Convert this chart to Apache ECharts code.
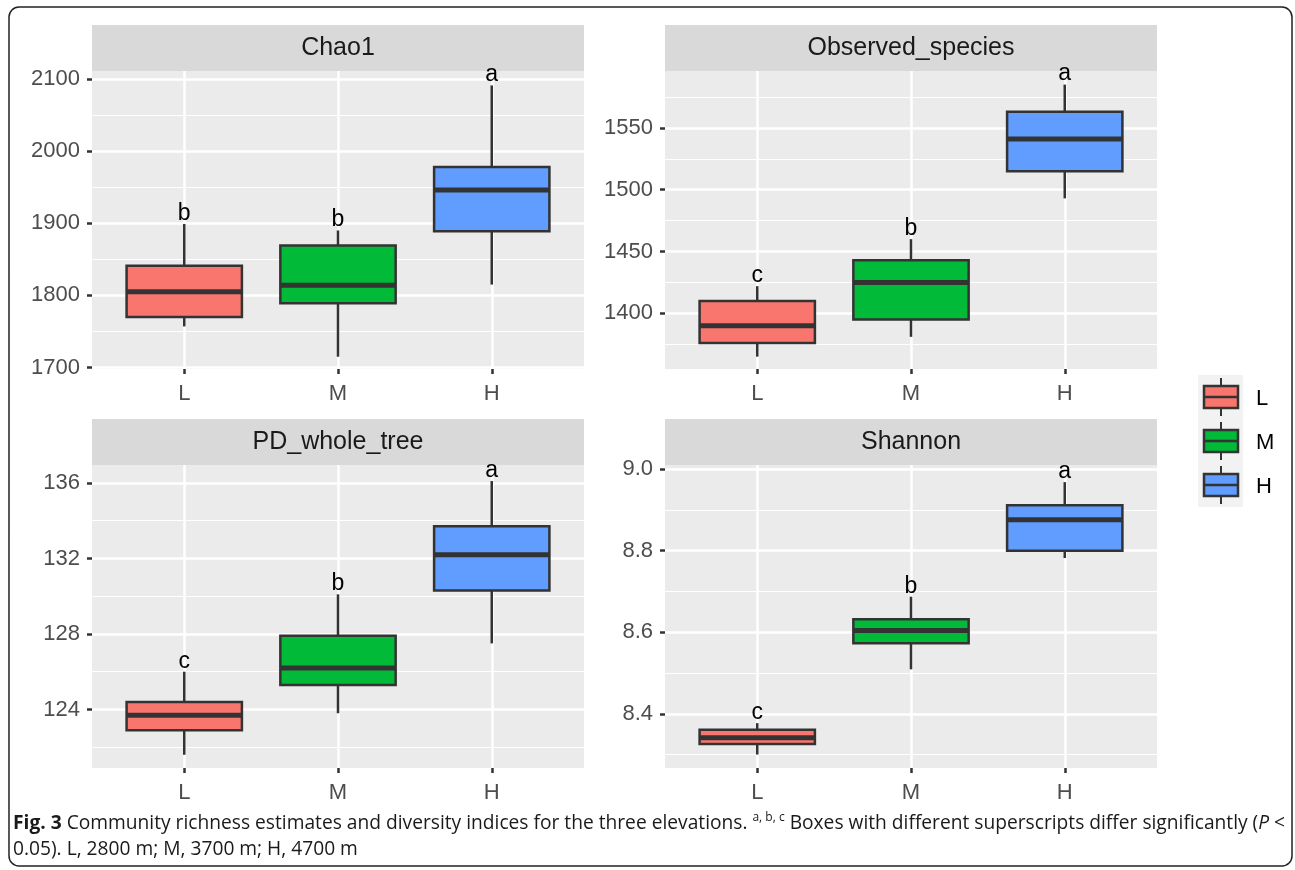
<!DOCTYPE html>
<html><head><meta charset="utf-8">
<script src="https://cdn.jsdelivr.net/npm/echarts@6/dist/echarts.min.js"></script>
<style>html,body{margin:0;padding:0;background:#fff}#c{width:1295px;height:870px}</style>
</head><body><div id="c"></div>
<script>
// ---------------- data ----------------
const categories = ['L', 'M', 'H'];
const panelTitles = ['Chao1', 'Observed_species', 'PD_whole_tree', 'Shannon'];
// each row: [lower whisker, Q1, median, Q3, upper whisker] for L, M, H
const chao1 = [[1757, 1770, 1805, 1841, 1899], [1715, 1789, 1814, 1869, 1890], [1815, 1889, 1946, 1978, 2091]];
const observedSpecies = [[1365, 1376, 1390, 1410, 1422], [1381, 1395, 1425, 1443, 1460], [1493, 1515, 1541, 1563, 1585]];
const pdWholeTree = [[121.6, 122.9, 123.7, 124.4, 126.0], [123.8, 125.3, 126.2, 127.9, 130.1], [127.5, 130.3, 132.2, 133.7, 136.1]];
const shannon = [[8.300, 8.326, 8.341, 8.361, 8.377], [8.509, 8.573, 8.604, 8.632, 8.687], [8.782, 8.800, 8.876, 8.911, 8.968]];
const letters = [['b', 'b', 'a'], ['c', 'b', 'a'], ['c', 'b', 'a'], ['c', 'b', 'a']];
const chao1Ticks = [1700, 1800, 1900, 2000, 2100];
const chao1Minor = [1750, 1850, 1950, 2050];
const observedTicks = [1400, 1450, 1500, 1550];
const observedMinor = [1375, 1425, 1475, 1525, 1575];
const pdTicks = [124, 128, 132, 136];
const pdMinor = [122, 126, 130, 134];
const shannonTicks = [8.4, 8.6, 8.8, 9.0];
const shannonMinor = [8.3, 8.5, 8.7, 8.9];
const yLimits = [[1698, 2111], [1355, 1596], [120.9, 136.95], [8.267, 9.01]];
const xLimits = [0.4, 3.6];
const captionLine1 = ['Fig. 3', ' Community richness estimates and diversity indices for the three elevations. ', 'a, b, c', ' Boxes with different superscripts differ significantly (', 'P', ' <'];
const captionLine2 = '0.05). L, 2800 m; M, 3700 m; H, 4700 m';

// ---------------- styles / layout ----------------
const fills = ['#F8766D', '#00BA38', '#619CFF'];
const DARK = '#333333';
const FONT = '"Liberation Sans", Arial, sans-serif';
const BOX_W = 0.75;
const COL_X = [92, 665];
const GRID_W = 492;
const ROW_TOP = [71, 465];
const GRID_H = [298, 303];
const STRIP_H = 46;

const panelData = [chao1, observedSpecies, pdWholeTree, shannon];
const panelTicks = [chao1Ticks, observedTicks, pdTicks, shannonTicks];
const panelMinor = [chao1Minor, observedMinor, pdMinor, shannonMinor];
const tickFormat = [v => String(v), v => String(v), v => String(v), v => v.toFixed(1)];

const chart = echarts.init(document.getElementById('c'), null, { renderer: 'canvas', width: 1295, height: 870 });

const grids = [], xAxes = [], yAxes = [], series = [], graphics = [];

function makeRender(p) {
  return function (params, api) {
    const x = api.value(0);
    const ys = [1, 2, 3, 4, 5].map(k => api.coord([x, api.value(k)])[1]);
    const cx = api.coord([x, api.value(3)])[0];
    const w = api.size([BOX_W, 0])[0];
    const color = fills[params.dataIndex];
    return {
      type: 'group',
      children: [
        { type: 'line', shape: { x1: cx, y1: ys[0], x2: cx, y2: ys[1] }, style: { stroke: DARK, lineWidth: 2.5 } },
        { type: 'line', shape: { x1: cx, y1: ys[3], x2: cx, y2: ys[4] }, style: { stroke: DARK, lineWidth: 2.5 } },
        { type: 'rect', shape: { x: cx - w / 2, y: ys[3], width: w, height: ys[1] - ys[3] }, style: { fill: color, stroke: DARK, lineWidth: 2.5 } },
        { type: 'line', shape: { x1: cx - w / 2, y1: ys[2], x2: cx + w / 2, y2: ys[2] }, style: { stroke: DARK, lineWidth: 5 } },
        { type: 'text', x: cx, y: ys[4] + 1, style: { text: letters[p][params.dataIndex], fill: '#000', font: '23px ' + FONT, align: 'center', verticalAlign: 'bottom', textAlign: 'center', textVerticalAlign: 'bottom' } }
      ]
    };
  };
}

for (let p = 0; p < 4; p++) {
  const col = p % 2, row = Math.floor(p / 2);
  const left = COL_X[col], top = ROW_TOP[row], h = GRID_H[row];
  grids.push({ left: left, top: top, width: GRID_W, height: h, show: true, backgroundColor: '#EBEBEB', borderWidth: 0, containLabel: false });
  xAxes.push({
    gridIndex: p, type: 'value', min: xLimits[0], max: xLimits[1],
    axisLine: { show: false },
    axisTick: { show: true, customValues: [1, 2, 3], length: 5, lineStyle: { color: DARK, width: 2.5 } },
    axisLabel: { customValues: [1, 2, 3], formatter: v => categories[Math.round(v) - 1], color: '#4D4D4D', fontSize: 22, fontFamily: FONT, margin: 14 },
    splitLine: { show: true, lineStyle: { color: '#FFFFFF', width: 2.5 } }
  });
  yAxes.push({
    gridIndex: p, type: 'value', min: yLimits[p][0], max: yLimits[p][1], position: 'left',
    axisLine: { show: false },
    axisTick: { show: true, customValues: panelTicks[p], length: 5, lineStyle: { color: DARK, width: 2.5 } },
    axisLabel: { customValues: panelTicks[p], formatter: tickFormat[p], color: '#4D4D4D', fontSize: 22, fontFamily: FONT, margin: 12 },
    splitLine: { show: true, lineStyle: { color: '#FFFFFF', width: 2.5 } }
  });
  yAxes.push({
    gridIndex: p, type: 'value', min: yLimits[p][0], max: yLimits[p][1], position: 'left',
    axisLine: { show: false },
    axisTick: { show: false, customValues: panelMinor[p] },
    axisLabel: { show: false },
    splitLine: { show: true, lineStyle: { color: '#FFFFFF', width: 1.2 } }
  });
  series.push({
    type: 'custom', name: panelTitles[p], xAxisIndex: p, yAxisIndex: 2 * p,
    renderItem: makeRender(p),
    encode: { x: 0, y: [1, 2, 3, 4, 5] },
    data: panelData[p].map((v, i) => [i + 1].concat(v)),
    clip: false, z: 5
  });
  // facet strip
  graphics.push({ type: 'rect', shape: { x: left, y: top - STRIP_H, width: GRID_W, height: STRIP_H }, style: { fill: '#D9D9D9' }, silent: true });
  graphics.push({ type: 'text', x: left + GRID_W / 2, y: top - STRIP_H / 2, style: { text: panelTitles[p], fill: '#1A1A1A', font: '25px ' + FONT, textAlign: 'center', textVerticalAlign: 'middle' }, silent: true });
}

// legend (drawn as graphics)
const LEG_X = 1198, LEG_Y = 375, KEY_H = 44;
graphics.push({ type: 'rect', shape: { x: LEG_X, y: LEG_Y, width: 45, height: KEY_H * 3 }, style: { fill: '#F2F2F2' }, silent: true });
categories.forEach((c, i) => {
  const cy = LEG_Y + KEY_H * i + 22;
  graphics.push({ type: 'line', shape: { x1: LEG_X + 23, y1: cy - 19, x2: LEG_X + 23, y2: cy + 19 }, style: { stroke: DARK, lineWidth: 2 } });
  graphics.push({ type: 'rect', shape: { x: LEG_X + 6, y: cy - 11, width: 34, height: 22 }, style: { fill: fills[i], stroke: DARK, lineWidth: 2.5 } });
  graphics.push({ type: 'line', shape: { x1: LEG_X + 6, y1: cy, x2: LEG_X + 40, y2: cy }, style: { stroke: DARK, lineWidth: 2.5 } });
  graphics.push({ type: 'text', x: LEG_X + 58, y: cy + 2, style: { text: c, fill: '#000', font: '22px ' + FONT, textAlign: 'left', textVerticalAlign: 'middle' } });
});

// caption
const CAP_FONT = '"Open Sans", "Noto Sans", sans-serif';
const CAP_SIZE = 19.2;
graphics.push({
  type: 'text', x: 13, y: 824,
  style: {
    text: '{b|' + captionLine1[0] + '}{n|' + captionLine1[1] + '}{s|' + captionLine1[2] + '}{n|' + captionLine1[3] + '}{i|' + captionLine1[4] + '}{n|' + captionLine1[5] + '}',
    textVerticalAlign: 'middle', textAlign: 'left',
    rich: {
      b: { fontFamily: CAP_FONT, fontSize: CAP_SIZE, fontWeight: 'bold', fill: '#1a1a1a', lineHeight: 24 },
      n: { fontFamily: CAP_FONT, fontSize: CAP_SIZE, fill: '#1a1a1a', lineHeight: 24 },
      s: { fontFamily: CAP_FONT, fontSize: 12, fill: '#1a1a1a', lineHeight: 24, verticalAlign: 'top' },
      i: { fontFamily: CAP_FONT, fontSize: CAP_SIZE, fontStyle: 'italic', fill: '#1a1a1a', lineHeight: 24 }
    }
  }
});
graphics.push({ type: 'text', x: 13, y: 850, style: { text: captionLine2, font: CAP_SIZE + 'px ' + CAP_FONT, fill: '#1a1a1a', textAlign: 'left', textVerticalAlign: 'middle' } });

// outer rounded border
graphics.push({ type: 'rect', shape: { x: 9, y: 7, width: 1283, height: 859, r: 10 }, style: { fill: 'none', stroke: '#222', lineWidth: 1.5 }, silent: true, z: 100 });

chart.setOption({
  animation: false,
  backgroundColor: '#FFFFFF',
  grid: grids,
  xAxis: xAxes,
  yAxis: yAxes,
  series: series,
  graphic: { elements: graphics }
});
</script>
</body></html>
